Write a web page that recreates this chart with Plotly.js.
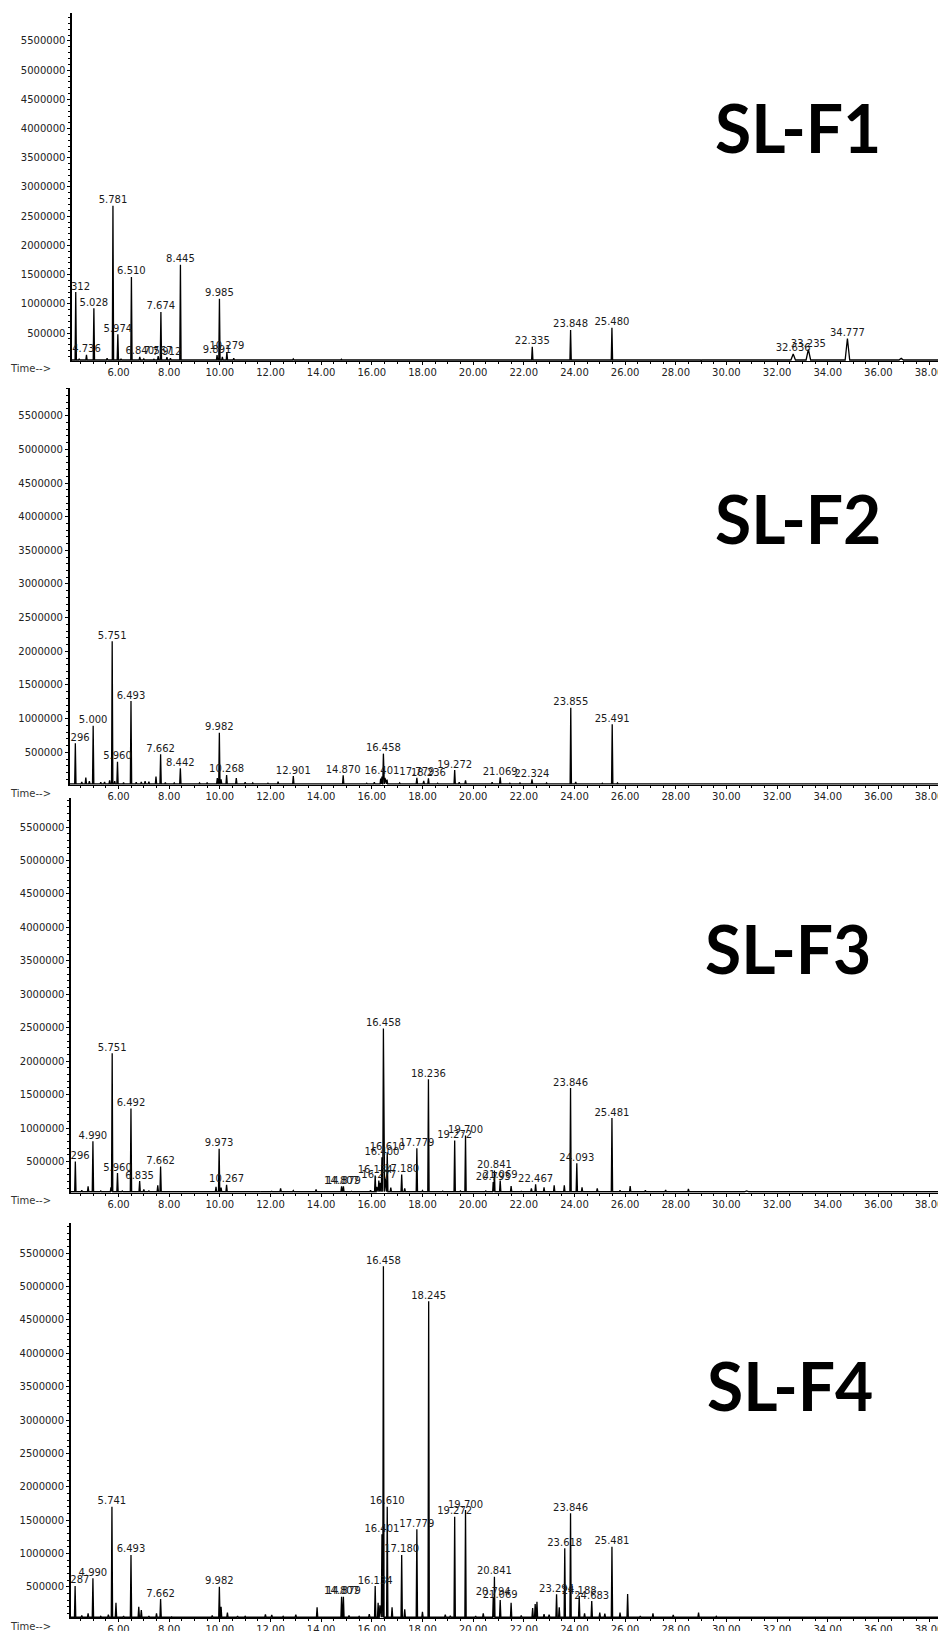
<!DOCTYPE html>
<html>
<head>
<meta charset="utf-8">
<script src="https://cdn.plot.ly/plotly-3.0.1.min.js"></script>
<style>html,body{margin:0;padding:0;background:#fff;}#chart{width:938px;height:1631px;}</style>
</head>
<body>
<div id="chart"></div>
<script>
// ---------- DATA (retention time in min, abundance) ----------
const panelNames = ["SL-F1", "SL-F2", "SL-F3", "SL-F4"];
const xTickVals = [6, 8, 10, 12, 14, 16, 18, 20, 22, 24, 26, 28, 30, 32, 34, 36, 38];
const yTickVals = [500000, 1000000, 1500000, 2000000, 2500000, 3000000, 3500000, 4000000, 4500000, 5000000, 5500000];

// SL-F1 labelled peaks
const f1_rt = [4.312, 4.736, 5.028, 5.781, 5.974, 6.510, 6.840, 7.567, 7.674, 7.912, 8.445, 9.891, 9.985, 10.279, 22.335, 23.848, 25.480, 32.636, 33.235, 34.777];
const f1_h  = [1200000, 125000, 925000, 2680000, 480000, 1460000, 90000, 105000, 860000, 85000, 1670000, 120000, 1085000, 175000, 265000, 553000, 590000, 141000, 221000, 406000];
// SL-F1 small unlabelled peaks
const f1_minor_rt = [4.45, 5.35, 5.55, 6.1, 6.3, 6.7, 7.0, 7.2, 7.4, 8.05, 8.25, 8.75, 9.05, 9.35, 9.65, 10.1, 10.55, 10.85, 11.15, 11.45, 11.8, 12.25, 12.9, 13.6, 14.8, 16.5, 18.1, 19.35, 20.2, 21.25, 23.35, 25.15, 27.6, 29.0, 30.6, 31.6, 35.2, 36.9];
const f1_minor_h  = [60000, 45000, 70000, 60000, 40000, 45000, 55000, 45000, 50000, 70000, 40000, 45000, 35000, 40000, 45000, 90000, 70000, 45000, 40000, 45000, 40000, 40000, 55000, 35000, 50000, 40000, 35000, 40000, 30000, 40000, 40000, 50000, 40000, 30000, 30000, 28000, 40000, 65000];

// SL-F2
const f2_rt = [4.296, 5.000, 5.751, 5.960, 6.493, 7.662, 8.442, 9.982, 10.268, 12.901, 14.870, 16.401, 16.458, 17.779, 18.236, 19.272, 21.069, 22.324, 23.855, 25.491];
const f2_h  = [634000, 896000, 2150000, 361000, 1262000, 470000, 262000, 792000, 163000, 148000, 160000, 140000, 480000, 120000, 115000, 235000, 130000, 100000, 1160000, 915000];
const f2_minor_rt = [4.55, 4.71, 4.85, 5.3, 5.45, 5.65, 5.85, 6.2, 6.7, 6.9, 7.05, 7.2, 7.48, 7.85, 8.2, 8.8, 9.2, 9.5, 9.9, 10.05, 10.65, 11.0, 11.3, 11.9, 12.3, 13.3, 13.9, 14.3, 15.2, 15.8, 16.1, 16.35, 16.52, 16.6, 17.1, 17.5, 18.05, 18.6, 19.05, 19.45, 19.7, 20.3, 20.75, 21.45, 21.85, 22.9, 24.05, 25.1, 25.7, 27.3, 29.3, 30.8, 32.7, 34.7];
const f2_minor_h  = [60000, 123000, 70000, 55000, 60000, 85000, 70000, 50000, 55000, 60000, 70000, 65000, 138000, 50000, 45000, 40000, 45000, 50000, 119000, 100000, 119000, 55000, 45000, 40000, 64000, 40000, 35000, 35000, 35000, 40000, 55000, 110000, 120000, 95000, 45000, 40000, 75000, 40000, 40000, 55000, 85000, 35000, 55000, 40000, 45000, 45000, 60000, 40000, 45000, 30000, 28000, 28000, 30000, 35000];

// SL-F3
const f3_rt = [4.296, 4.990, 5.751, 5.960, 6.492, 6.835, 7.662, 9.973, 10.267, 14.807, 14.879, 16.134, 16.277, 16.400, 16.458, 16.610, 17.180, 17.779, 18.236, 19.272, 19.700, 20.793, 20.841, 21.069, 22.467, 23.846, 24.093, 25.481];
const f3_h  = [500000, 802000, 2117000, 326000, 1293000, 207000, 426000, 689000, 153000, 128000, 128000, 292000, 217000, 564000, 2490000, 639000, 307000, 698000, 1730000, 812000, 887000, 192000, 366000, 217000, 158000, 1597000, 475000, 1150000];
const f3_minor_rt = [4.55, 4.8, 5.3, 5.7, 6.15, 7.0, 7.2, 7.55, 8.1, 8.6, 9.1, 9.5, 9.85, 10.05, 10.8, 11.1, 11.6, 12.05, 12.4, 12.9, 13.3, 13.8, 15.2, 15.55, 15.95, 16.2, 16.34, 16.53, 16.75, 17.3, 18.0, 18.8, 19.5, 20.1, 20.5, 21.5, 21.9, 22.3, 22.8, 23.2, 23.6, 24.3, 24.9, 25.8, 26.2, 26.8, 27.6, 28.5, 29.5, 30.8, 32.2, 34.8, 36.3];
const f3_minor_h  = [70000, 128000, 60000, 113000, 60000, 83000, 60000, 143000, 50000, 45000, 45000, 55000, 120000, 110000, 58000, 55000, 45000, 55000, 98000, 65000, 50000, 83000, 55000, 50000, 70000, 120000, 180000, 250000, 110000, 98000, 65000, 58000, 60000, 50000, 60000, 133000, 55000, 98000, 113000, 143000, 143000, 113000, 98000, 68000, 133000, 70000, 75000, 90000, 50000, 60000, 45000, 50000, 45000];

// SL-F4
const f4_rt = [4.287, 4.990, 5.741, 6.493, 7.662, 9.982, 14.807, 14.879, 16.134, 16.401, 16.458, 16.610, 17.180, 17.779, 18.245, 19.272, 19.700, 20.794, 20.841, 21.069, 23.294, 23.618, 23.846, 24.188, 24.683, 25.481];
const f4_h  = [511000, 625000, 1700000, 976000, 315000, 500000, 350000, 350000, 510000, 1287000, 5305000, 1700000, 976000, 1360000, 4780000, 1550000, 1650000, 345000, 650000, 300000, 385000, 1077000, 1600000, 360000, 285000, 1100000];
const f4_minor_rt = [4.55, 4.8, 5.3, 5.6, 5.9, 6.2, 6.8, 6.9, 7.2, 7.5, 8.1, 8.6, 9.2, 9.7, 10.05, 10.3, 10.7, 11.0, 11.8, 12.05, 12.5, 13.0, 13.4, 13.84, 15.1, 15.5, 15.9, 16.25, 16.32, 16.8, 17.3, 18.0, 18.9, 19.1, 20.1, 20.4, 21.5, 21.9, 22.35, 22.45, 22.52, 22.8, 23.0, 23.4, 24.4, 25.0, 25.2, 25.8, 26.1, 26.6, 27.1, 27.9, 28.9, 29.6, 30.5, 31.3, 32.5, 33.2, 34.9, 36.2];
const f4_minor_h  = [70000, 100000, 55000, 80000, 260000, 60000, 200000, 150000, 60000, 100000, 50000, 45000, 50000, 70000, 200000, 110000, 60000, 55000, 85000, 75000, 55000, 80000, 50000, 190000, 70000, 55000, 90000, 260000, 220000, 190000, 160000, 125000, 80000, 65000, 60000, 100000, 260000, 70000, 180000, 240000, 275000, 90000, 80000, 190000, 100000, 110000, 95000, 110000, 390000, 60000, 100000, 75000, 110000, 55000, 45000, 45000, 40000, 40000, 45000, 40000];

// ---------- LAYOUT GEOMETRY (pixels of the 938x1631 page) ----------
const W = 938, H = 1631;
const PXPERMIN = 25.33, X6PX = 118.5;
const geo = [
  {left: 72.0, top: 13.0,   bottom: 361.0,  yr: [20556, 5979000], base: 38000,
   title: {x: 798, y: 128}},
  {left: 69.5, top: 388.0,  bottom: 785.0,  yr: [14274, 5911000], base: 30000,
   title: {x: 798, y: 518}},
  {left: 71.0, top: 797.6,  bottom: 1192.7, yr: [33600, 5940000], base: 48000,
   title: {x: 788, y: 948}},
  {left: 70.7, top: 1222.7, bottom: 1618.3, yr: [26100, 5959000], base: 42000,
   title: {x: 790, y: 1385}}
];
const data_sets = [
  [f1_rt, f1_h, f1_minor_rt, f1_minor_h],
  [f2_rt, f2_h, f2_minor_rt, f2_minor_h],
  [f3_rt, f3_h, f3_minor_rt, f3_minor_h],
  [f4_rt, f4_h, f4_minor_rt, f4_minor_h]
];

const traces = [];
const layout = {
  width: W, height: H,
  margin: {l: 0, r: 0, t: 0, b: 0},
  paper_bgcolor: '#fff', plot_bgcolor: 'rgba(0,0,0,0)',
  showlegend: false, hovermode: false,
  annotations: []
};
const tickFont = {family: 'DejaVu Sans', size: 10, color: '#222'};

geo.forEach((g, i) => {
  const s = i === 0 ? '' : String(i + 1);
  const xr = [6 - (X6PX - g.left) / PXPERMIN, 6 + (W - X6PX) / PXPERMIN];
  const [rt, h, mrt, mh] = data_sets[i];
  const peaks = rt.map((t, k) => ({t: t, h: h[k]}))
    .concat(mrt.map((t, k) => ({t: t, h: mh[k]})))
    .sort((a, b) => a.t - b.t);
  // build chromatogram polyline from peak list
  const xs = [xr[0]], ys = [g.base];
  peaks.forEach((p, k) => {
    let w = p.t > 30 ? 0.09 : 0.026;
    if (k > 0) w = Math.min(w, (p.t - peaks[k - 1].t) / 2 - 0.002);
    if (k < peaks.length - 1) w = Math.min(w, (peaks[k + 1].t - p.t) / 2 - 0.002);
    xs.push(p.t - w, p.t, p.t + w);
    ys.push(g.base, p.h, g.base);
  });
  xs.push(xr[1]); ys.push(g.base);

  traces.push({
    type: 'scatter', mode: 'lines', x: xs, y: ys,
    xaxis: 'x' + s, yaxis: 'y' + s,
    line: {color: '#000', width: 1.3}, hoverinfo: 'skip'
  });
  traces.push({
    type: 'scatter', mode: 'text', x: rt, y: h,
    text: rt.map(t => t.toFixed(3)),
    textposition: 'top center',
    textfont: {family: 'DejaVu Sans', size: 10, color: '#1a1a1a'},
    cliponaxis: true,
    xaxis: 'x' + s, yaxis: 'y' + s, hoverinfo: 'skip'
  });

  layout['xaxis' + s] = {
    domain: [g.left / W, 1], range: xr, anchor: 'y' + s,
    showgrid: false, zeroline: false,
    showline: true, linecolor: '#000', linewidth: 1,
    ticks: 'outside', ticklen: 3, tickwidth: 1, tickcolor: '#000',
    tickvals: xTickVals, ticktext: xTickVals.map(v => v.toFixed(2)),
    tickfont: tickFont, ticklabeloverflow: 'allow', ticklabelstandoff: -1,
    minor: {dtick: 0.5, tick0: 0, ticks: 'outside', ticklen: 2, tickcolor: '#000', showgrid: false},
    fixedrange: true
  };
  layout['yaxis' + s] = {
    domain: [1 - g.bottom / H, 1 - g.top / H], range: g.yr, anchor: 'x' + s,
    showgrid: false, zeroline: false,
    showline: true, linecolor: '#000', linewidth: 1.6,
    ticks: 'outside', ticklen: 3, tickwidth: 1, tickcolor: '#000',
    tickvals: yTickVals, ticktext: yTickVals.map(v => String(v)),
    tickfont: tickFont,
    minor: {dtick: 100000, tick0: 0, ticks: 'outside', ticklen: 2, tickcolor: '#000', showgrid: false},
    fixedrange: true
  };

  layout.annotations.push({
    xref: 'paper', yref: 'paper', x: g.title.x / W, y: 1 - g.title.y / H,
    xanchor: 'center', yanchor: 'middle', showarrow: false,
    text: panelNames[i],
    font: {family: 'Lato', size: 66, weight: 700, color: '#000'}
  });
  layout.annotations.push({
    xref: 'paper', yref: 'paper', x: 30 / W, y: 1 - (g.bottom + 8) / H,
    xanchor: 'center', yanchor: 'middle', showarrow: false,
    text: 'Time-->',
    font: {family: 'DejaVu Sans', size: 10, color: '#333'}
  });
});

Plotly.newPlot('chart', traces, layout, {staticPlot: true, displayModeBar: false});
</script>
</body>
</html>
